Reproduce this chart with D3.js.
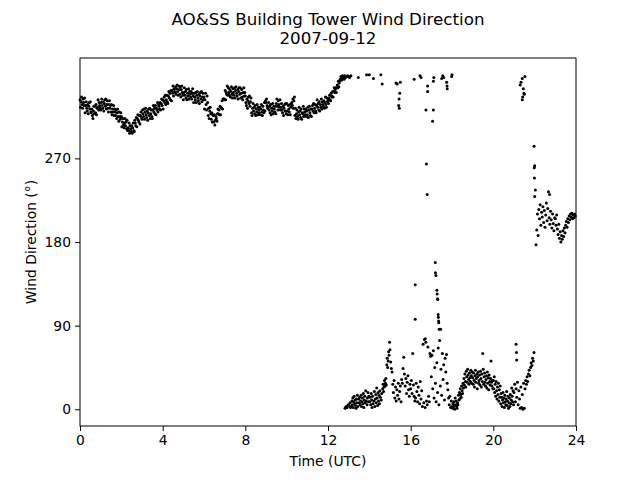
<!DOCTYPE html>
<html>
<head>
<meta charset="utf-8">
<script src="https://cdn.jsdelivr.net/npm/d3@7"></script>
<style>
  html, body { margin: 0; padding: 0; background: #fff; }
  text { font-family: "DejaVu Sans", sans-serif; fill: #000; }
</style>
</head>
<body>
<div id="chart"></div>
<script>
// wind direction (deg) per UTC hour, evenly spaced readings inside each hour
const h00 = [333, 325, 331, 336, 328, 324, 334, 330, 327, 335, 319, 327, 331, 324, 321, 328, 318, 326, 330, 323, 331, 320, 319, 323, 316, 313, 321, 326, 318, 326, 319, 328, 317, 324, 325, 333, 322, 330, 327, 324];
const h01 = [322, 330, 334, 327, 324, 331, 321, 329, 333, 326, 334, 323, 328, 332, 324, 320, 328, 332, 324, 327, 320, 328, 317, 323, 320, 327, 316, 323, 320, 316, 322, 313, 319, 323, 315, 310, 320, 315, 312, 319];
const h02 = [315, 304, 309, 313, 306, 303, 308, 313, 305, 309, 302, 311, 300, 303, 300, 308, 297, 305, 302, 299, 305, 297, 303, 308, 300, 299, 311, 308, 305, 314, 304, 313, 317, 311, 309, 316, 307, 316, 320, 314];
const h03 = [312, 322, 318, 315, 323, 312, 320, 324, 317, 314, 321, 311, 319, 323, 316, 324, 313, 318, 322, 315, 313, 322, 327, 320, 324, 318, 327, 317, 324, 322, 330, 320, 328, 326, 323, 330, 322, 329, 334, 327];
const h04 = [333, 323, 332, 336, 330, 338, 328, 333, 338, 331, 329, 337, 342, 335, 340, 333, 343, 332, 343, 340, 348, 337, 345, 342, 341, 347, 339, 345, 349, 342, 338, 348, 344, 339, 347, 336, 344, 348, 341, 338];
const h05 = [333, 341, 346, 338, 342, 335, 344, 333, 340, 337, 345, 334, 342, 339, 336, 342, 334, 340, 345, 337, 330, 340, 336, 333, 341, 330, 338, 342, 335, 332, 339, 329, 337, 341, 334, 342, 331, 336, 340, 333];
const h06 = [336, 323, 333, 340, 328, 322, 337, 330, 316, 324, 313, 321, 325, 318, 312, 319, 309, 317, 316, 309, 317, 306, 311, 315, 313, 310, 318, 323, 318, 322, 317, 326, 317, 325, 324, 332, 323, 334, 334, 334];
const h07 = [333, 343, 333, 341, 339, 348, 338, 346, 341, 338, 344, 336, 342, 347, 339, 335, 345, 341, 338, 346, 335, 343, 347, 340, 337, 344, 334, 342, 346, 339, 346, 335, 340, 344, 336, 333, 341, 346, 337, 341];
const h08 = [337, 330, 327, 334, 324, 332, 336, 329, 337, 326, 331, 335, 319, 316, 324, 329, 321, 325, 318, 327, 316, 323, 320, 328, 317, 325, 322, 319, 325, 317, 323, 328, 320, 316, 326, 322, 319, 330, 321, 332];
const h09 = [330, 334, 327, 324, 325, 330, 322, 326, 319, 328, 317, 324, 321, 329, 318, 326, 323, 320, 326, 318, 329, 334, 326, 322, 332, 328, 325, 333, 322, 325, 329, 322, 319, 326, 316, 324, 328, 321, 329, 318];
const h10 = [329, 321, 317, 327, 323, 320, 328, 317, 325, 329, 330, 327, 334, 324, 332, 336, 316, 324, 313, 318, 322, 315, 312, 320, 325, 317, 321, 314, 323, 312, 319, 318, 326, 315, 323, 320, 317, 323, 315, 321];
const h11 = [317, 325, 314, 322, 326, 319, 316, 323, 315, 323, 327, 321, 329, 319, 324, 328, 321, 319, 327, 333, 325, 329, 322, 331, 321, 328, 325, 334, 323, 331, 328, 326, 332, 324, 330, 336, 328, 325, 335, 331];
const h12 = [333, 329, 335, 338, 333, 332, 340, 337, 336, 342, 336, 342, 346, 341, 344, 346, 341, 346, 349, 346, 353, 347, 351, 354, 355, 358, 354, 357, 359, 356, 358, 355, 359, 1, 357, 3, 358, 2, 359, 5];
const h13 = [358, 4, 357, 7, 2, 359, 3, 9, 5, 12, 2, 8, 14, 6, 10, 4, 1, 11, 7, 15, 3, 357, 11, 7, 13, 5, 9, 15, 3, 8, 12, 6, 17, 2, 10, 14, 7, 20, 9, 360, 5, 12, 18, 8, 14];
const h14 = [360, 8, 13, 5, 17, 10, 2, 14, 6, 356, 9, 19, 3, 11, 16, 7, 23, 12, 4, 18, 9, 15, 6, 20, 13, 360, 10, 17, 350, 22, 27, 19, 24, 31, 25, 28, 33, 26, 48, 55, 45, 52, 62, 58, 72];
const h15 = [64, 51, 44, 40, 27, 18, 31, 12, 24, 9, 21, 15, 28, 11, 19, 25, 8, 32, 28, 44, 56, 38, 25, 33, 17, 29, 36, 21, 14, 27];
const h16 = [22, 31, 17, 60, 26, 14, 9, 12, 28, 19, 8, 24, 15, 6, 30, 11, 20, 3, 70, 7, 75, 2, 72, 9, 5, 67, 14, 8, 60, 57];
const h17 = [35, 58, 22, 63, 12, 45, 28, 8, 50, 18, 66, 5, 74, 25, 43, 15, 60, 32, 48, 10, 55, 40, 59, 28, 21, 12, 5, 14, 2, 9];
const h18 = [3, 1, 6, 2, 8, 4, 0, 12, 5, 9, 3, 1, 7, 5, 15, 10, 18, 11, 22, 16, 13, 25, 20, 17, 28, 23, 33, 26, 38, 30, 24, 41, 35, 29, 43, 37, 32, 27, 39, 34, 30, 42, 36, 28, 40];
const h19 = [34, 27, 39, 31, 24, 36, 42, 29, 33, 38, 22, 35, 40, 28, 31, 37, 26, 41, 33, 24, 38, 30, 60, 43, 27, 35, 39, 29, 25, 32, 36, 23, 40, 28, 34, 21, 37, 30, 26, 33, 52, 29, 25, 31, 22];
const h20 = [31, 22, 35, 18, 27, 14, 30, 20, 11, 24, 16, 28, 9, 21, 13, 25, 6, 17, 13, 3, 10, 18, 7, 12, 2, 15, 8, 5, 11, 19, 4, 9, 14, 1, 7, 12, 3, 16, 6, 10, 23, 14, 8, 20, 5];
const h21 = [18, 27, 8, 22, 13, 29, 5, 20, 11, 1, 24, 2, 16, 0, 28, 1, 22, 31, 27, 35, 30, 38, 42, 36, 45, 50, 47, 55, 52, 61];
const h22 = [262, 236, 177, 193, 210, 187, 215, 205, 220, 198, 212, 207, 218, 201, 214, 196, 209, 222, 203, 216, 234, 206, 199, 213, 204, 195, 210, 200, 192, 206];
const h23 = [205, 198, 209, 194, 188, 199, 184, 191, 180, 187, 183, 192, 186, 195, 190, 198, 202, 196, 205, 201, 208, 204, 210, 207, 211, 205, 209, 206, 210, 208];
const hours = [h00, h01, h02, h03, h04, h05, h06, h07, h08, h09, h10, h11,
  h12, h13, h14, h15, h16, h17, h18, h19, h20, h21, h22, h23];

// gusty readings in between the regular ones (hour UTC, deg)
const extraTimes = [15.29, 15.35, 15.5, 15.47, 15.44, 15.42, 15.45,
  16.17, 16.22, 16.22, 16.45, 16.5, 16.74, 16.76, 16.8, 16.82, 16.82, 16.71,
  17.06, 17.1, 17.1, 17.12, 17.19, 17.2, 17.22, 17.27, 17.28, 17.3, 17.31, 17.33, 17.34, 17.35, 17.36, 17.38, 17.45,
  17.5, 17.55, 17.6, 17.74, 17.76, 17.77, 17.98, 18.0,
  21.1, 21.12, 21.13, 21.53, 21.4, 21.34, 21.3, 21.45, 21.48, 21.5, 21.42, 21.4,
  21.97, 21.98, 21.99, 22.0, 22.72];
const extraDirs = [351, 350, 352, 340, 334, 327, 324,
  355, 134, 97, 359, 357, 322, 264, 231, 348, 342, 76,
  310, 322, 353, 357, 158, 147, 144, 128, 124, 119, 118, 102, 99, 95, 93, 86, 86,
  356, 359, 357, 352, 348, 345, 358, 360,
  70, 61, 53, 358, 356, 352, 349, 345, 340, 339, 336, 333,
  283, 260, 249, 229, 231];

const xTicks = [0, 4, 8, 12, 16, 20, 24];
const yTicks = [0, 90, 180, 270];

const titleLines = ['AO&SS Building Tower Wind Direction', '2007-09-12'];

const config = {
  width: 640,
  height: 480,
  left: 80,
  right: 576,
  top: 58,
  bottom: 426,
  tickSize: 5,
  dotRadius: 1.5
};

function buildPoints() {
  const pts = [];
  hours.forEach((vals, h)=> {
    vals.forEach((v, i)=> pts.push({t: h + i / vals.length, d: v}));
  });
  extraTimes.forEach((t, i)=> pts.push({t: t, d: extraDirs[i]}));
  return pts;
}

function render() {
  const points = buildPoints();

  const svg = d3.select('#chart')
    .append('svg')
    .attr('width', config.width)
    .attr('height', config.height);

  const x = d3.scaleLinear().domain([0, 24]).range([config.left, config.right]);
  // matplotlib style 5% margin round 0..360
  const y = d3.scaleLinear().domain([-18, 378]).range([config.bottom, config.top]);

  svg.append('g')
    .selectAll('circle')
    .data(points)
    .enter()
    .append('circle')
    .attr('cx', (p)=> x(p.t))
    .attr('cy', (p)=> y(p.d))
    .attr('r', config.dotRadius)
    .attr('fill', '#000');

  const xAxis = d3.axisBottom(x)
    .tickValues(xTicks)
    .tickSize(config.tickSize)
    .tickPadding(4)
    .tickFormat(d3.format('d'));
  const yAxis = d3.axisLeft(y)
    .tickValues(yTicks)
    .tickSize(config.tickSize)
    .tickPadding(4)
    .tickFormat(d3.format('d'));

  const gx = svg.append('g')
    .attr('transform', `translate(0,${config.bottom})`)
    .call(xAxis);
  const gy = svg.append('g')
    .attr('transform', `translate(${config.left},0)`)
    .call(yAxis);

  [gx, gy].forEach((g)=> {
    g.select('.domain').remove();
    g.selectAll('line').attr('stroke', '#000').attr('stroke-width', 1);
    g.selectAll('text')
      .attr('font-size', '13.9px')
      .attr('font-family', '"DejaVu Sans", sans-serif')
      .attr('fill', '#000');
  });

  // frame
  svg.append('rect')
    .attr('x', config.left)
    .attr('y', config.top)
    .attr('width', config.right - config.left)
    .attr('height', config.bottom - config.top)
    .attr('fill', 'none')
    .attr('stroke', '#000')
    .attr('stroke-width', 1);

  svg.selectAll('text.title')
    .data(titleLines)
    .enter()
    .append('text')
    .attr('class', 'title')
    .attr('x', (config.left + config.right) / 2)
    .attr('y', (d, i)=> 25 + i * 19)
    .attr('text-anchor', 'middle')
    .attr('font-size', '16.7px')
    .text((d)=> d);

  svg.append('text')
    .attr('x', (config.left + config.right) / 2)
    .attr('y', 466)
    .attr('text-anchor', 'middle')
    .attr('font-size', '13.9px')
    .text('Time (UTC)');

  svg.append('text')
    .attr('transform', `translate(36,${(config.top + config.bottom) / 2}) rotate(-90)`)
    .attr('text-anchor', 'middle')
    .attr('font-size', '13.9px')
    .text('Wind Direction (°)');
}

render();
</script>
</body>
</html>
